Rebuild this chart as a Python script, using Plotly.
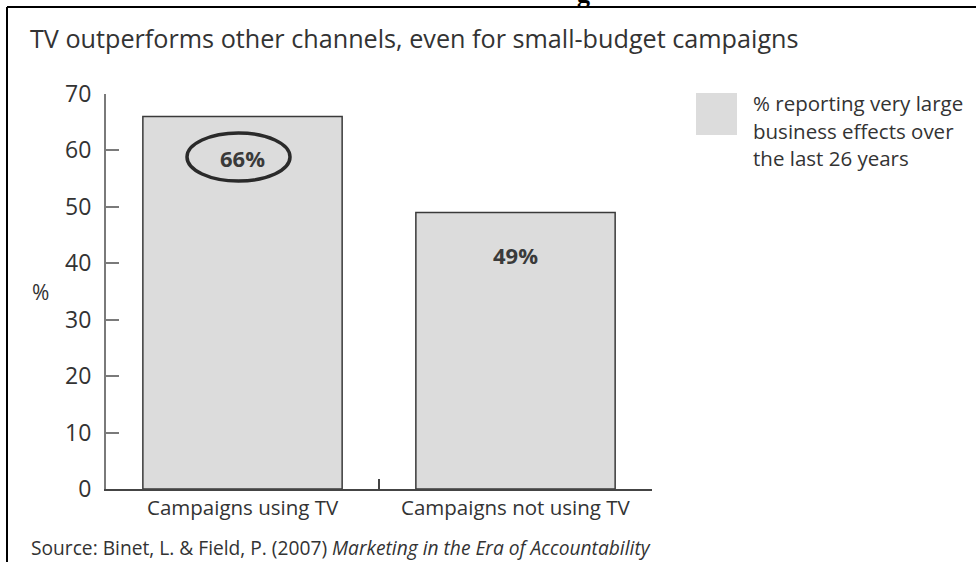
import plotly.graph_objects as go

# Data
categories = ["Campaigns using TV", "Campaigns not using TV"]
values = [66, 49]
series_lines = ["% reporting very large", "business effects over", "the last 26 years"]
y_ticks = [0, 10, 20, 30, 40, 50, 60, 70]

title_text = "TV outperforms other channels, even for small-budget campaigns"
source_text = "Source: Binet, L. & Field, P. (2007) <i>Marketing in the Era of Accountability</i>"

W, H = 976, 562
L, R, T, B = 106, 652, 94, 489  # plot area in pixels

FONT = "Open Sans"
TXT = "#333333"


def px(x):
    return (x - L) / (R - L)


def py(y):
    return (B - y) / (B - T)


fig = go.Figure()
fig.add_trace(go.Bar(
    x=list(range(len(categories))),
    y=values,
    width=0.73,
    marker=dict(color="#dcdcdc", line=dict(color="#3a3a3a", width=1.5)),
    showlegend=False,
    hoverinfo="skip",
))

annotations = []
shapes = []

# value labels inside the bars
for i, v in enumerate(values):
    annotations.append(dict(
        x=i, y=v, xref="x", yref="y", text=f"<b>{v}%</b>", showarrow=False,
        yanchor="middle", yshift=-41 if i == 0 else -42,
        font=dict(family=FONT, size=22, color="#3a3a3a"),
    ))

# highlight ring around the first value label
shapes.append(dict(
    type="circle", xref="paper", yref="paper",
    x0=px(187), x1=px(290), y0=py(181), y1=py(133),
    line=dict(color="#2a2a2a", width=3.5),
))

# category labels under the axis
for i, c in enumerate(categories):
    annotations.append(dict(
        x=i, y=py(507), xref="x", yref="paper", text=c, showarrow=False,
        yanchor="middle", font=dict(family=FONT, size=20.5, color=TXT),
    ))

# title, axis unit and source
annotations.append(dict(
    x=px(28), y=py(38), xref="paper", yref="paper", text=title_text,
    showarrow=False, xanchor="left", yanchor="middle",
    font=dict(family=FONT, size=25.2, color=TXT),
))
annotations.append(dict(
    x=px(40), y=py(292), xref="paper", yref="paper", text="%",
    showarrow=False, xanchor="center", yanchor="middle",
    font=dict(family=FONT, size=21, color=TXT),
))
annotations.append(dict(
    x=px(29), y=py(547.5), xref="paper", yref="paper", text=source_text,
    showarrow=False, xanchor="left", yanchor="middle",
    font=dict(family=FONT, size=19.2, color=TXT),
))
# clipped heading descender above the frame
annotations.append(dict(
    x=px(583), y=py(-6), xref="paper", yref="paper", text="<b>g</b>",
    showarrow=False, xanchor="center", yanchor="middle",
    font=dict(family="Liberation Serif", size=26, color="#000000"),
))

# legend swatch and text
shapes.append(dict(
    type="rect", xref="paper", yref="paper",
    x0=px(696), x1=px(737), y0=py(135), y1=py(93),
    fillcolor="#dcdcdc", line=dict(width=0),
))
for k, line in enumerate(series_lines):
    annotations.append(dict(
        x=px(751), y=py(103 + 27.5 * k), xref="paper", yref="paper", text=line,
        showarrow=False, xanchor="left", yanchor="middle",
        font=dict(family=FONT, size=20.5, color=TXT),
    ))

# frame lines (top and left)
shapes.append(dict(type="line", xref="paper", yref="paper",
                   x0=px(7), x1=px(W + 5), y0=py(7), y1=py(7),
                   line=dict(color="#000000", width=2)))
shapes.append(dict(type="line", xref="paper", yref="paper",
                   x0=px(7), x1=px(7), y0=py(7), y1=py(H + 5),
                   line=dict(color="#000000", width=2)))

fig.update_layout(
    width=W, height=H,
    margin=dict(l=L, r=W - R, t=T, b=H - B, pad=0),
    paper_bgcolor="white", plot_bgcolor="white",
    font=dict(family=FONT, color=TXT),
    showlegend=False,
    annotations=annotations,
    shapes=shapes,
    xaxis=dict(
        range=[-0.5, 1.5], tickvals=[-0.5, 0.5, 1.5], showticklabels=False,
        ticks="inside", ticklen=10, tickwidth=1.5, tickcolor="#444444",
        showline=True, linecolor="#444444", linewidth=2,
        showgrid=False, zeroline=False, fixedrange=True,
    ),
    yaxis=dict(
        range=[0, 70], tickvals=y_ticks, ticks="inside", ticklen=13,
        tickwidth=2, tickcolor="#7a7a7a", showline=True, linecolor="#7a7a7a",
        linewidth=2, showgrid=False, zeroline=False, ticklabelstandoff=8,
        tickfont=dict(family=FONT, size=23, color=TXT), fixedrange=True,
    ),
)

fig.write_html("out.html", config={"displayModeBar": False})
